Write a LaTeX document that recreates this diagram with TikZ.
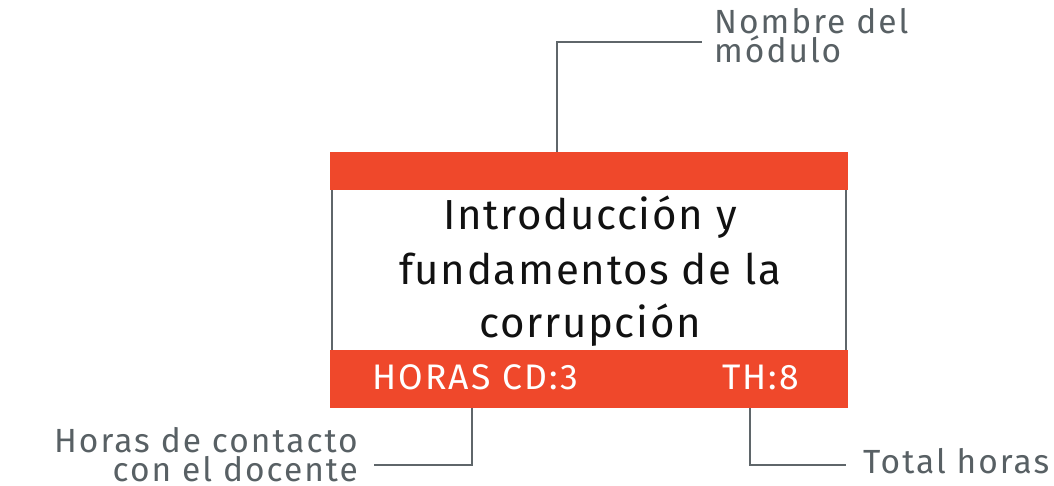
\documentclass[tikz,border=0pt]{standalone}
\usepackage{fontspec}
\setmainfont{Fira Sans}
\newfontfamily\titlefont[LetterSpace=4]{Fira Sans}
\newfontfamily\barfont[LetterSpace=6]{Fira Sans}
\newfontfamily\labfont[LetterSpace=6]{Fira Sans}
\definecolor{barred}{RGB}{239,72,43}
\definecolor{linegrey}{RGB}{95,102,106}
\definecolor{labgrey}{RGB}{88,96,100}
\definecolor{titleblack}{RGB}{17,17,17}
\begin{document}
\begin{tikzpicture}[x=1pt,y=-1pt,
  bar/.style={fill=barred, draw=none, inner sep=0pt, minimum width=518pt, anchor=north west},
  side/.style={draw=linegrey, line width=2pt},
  conn/.style={draw=linegrey, line width=2.2pt},
  titletext/.style={text=titleblack, inner sep=0pt, anchor=base, font=\titlefont\fontsize{42}{52}\selectfont},
  bartext/.style={text=white, inner sep=0pt, anchor=base west, font=\barfont\fontsize{35.5}{42}\selectfont},
  labtext/.style={text=labgrey, inner sep=0pt, font=\labfont\fontsize{33.5}{29}\selectfont}]
\useasboundingbox (0,0) rectangle (1054,486);
\node[bar, minimum height=38pt] (topbar) at (330,152) {};
\node[bar, minimum height=58pt] (botbar) at (330,350) {};
\draw[side] ([xshift=1.5pt]topbar.south west) -- ([xshift=1.5pt]botbar.north west);
\draw[side] ([xshift=-2pt]topbar.south east) -- ([xshift=-2pt]botbar.north east);
\node[titletext] (t1) at (590,230) {Introducción y};
\node[titletext] (t2) at (590,284) {fundamentos de la};
\node[titletext] (t3) at (590,337) {corrupción};
\node[bartext] (cd) at (372,389) {HORAS CD:3};
\node[bartext] (th) at (722,389) {TH:8};
\node[labtext, anchor=base west, align=left] (nom) at (714,63) {Nombre del\\módulo};
\node[labtext, anchor=base east, align=right] (hcd) at (358,481) {Horas de contacto\\con el docente};
\node[labtext, anchor=base west] (tot) at (863,473) {Total horas};
\coordinate (x1) at (557,0);
\coordinate (x2) at (472,0);
\coordinate (x3) at (750,0);
\coordinate (e1) at (702,42);
\coordinate (e2) at (374,465);
\coordinate (e3) at (846,465);
\draw[conn] (topbar.north -| x1) |- (e1);
\draw[conn] (botbar.south -| x2) |- (e2);
\draw[conn] (botbar.south -| x3) |- (e3);
\end{tikzpicture}
\end{document}
